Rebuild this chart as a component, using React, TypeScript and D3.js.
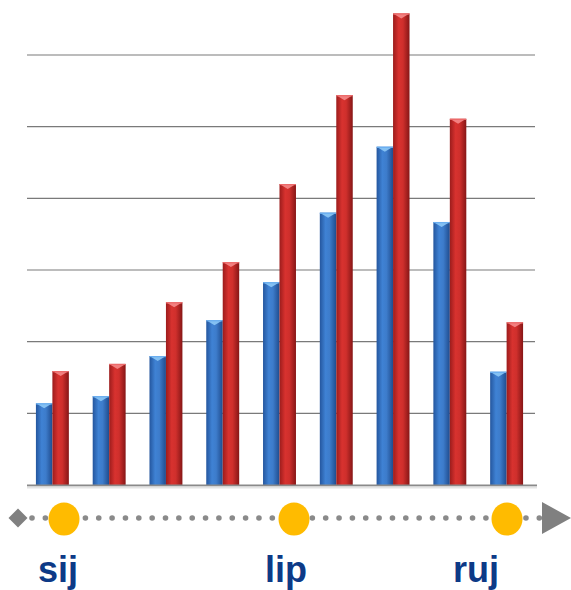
import React from "react";
import * as d3 from "d3";

const categories = ["1", "2", "3", "4", "5", "6", "7", "8", "9"];
const seriesBlue = [11.4, 12.4, 18.0, 23.0, 28.3, 38.0, 47.2, 36.7, 15.8];
const seriesRed = [15.9, 16.9, 25.5, 31.1, 42.0, 54.4, 65.8, 51.1, 22.7];
const gridTicks = [10, 20, 30, 40, 50, 60];
const timelineLabels = ["sij", "lip", "ruj"];
const timelinePositions = [0.09, 0.54, 0.96];

const W = 571;
const H = 590;

export default function App() {
  const x = d3.scaleBand<string>().domain(categories).range([24, 535]).paddingInner(0.42).paddingOuter(0.21);
  const inner = d3.scaleBand<string>().domain(["blue", "red"]).range([0, x.bandwidth()]);
  const y = d3.scaleLinear().domain([0, 60]).range([485, 55]);
  const t = d3.scaleLinear().domain([0, 1]).range([18, 520]);

  const dots: number[] = [];
  for (let px = 32; px < 545; px += 13.35) dots.push(px);

  const labelX = [38, 265, 453];
  const circleX = [64, 294, 507];

  const bar = (v: number, cat: string, s: "blue" | "red", i: number) => {
    const bx = (x(cat) ?? 0) + (inner(s) ?? 0);
    const bw = inner.bandwidth();
    const top = y(v);
    const capH = 5;
    return (
      <g key={s + i}>
        <rect x={bx} y={top} width={bw} height={y(0) - top} fill={`url(#grad-${s})`} />
        <polygon
          points={`${bx},${top} ${bx + bw},${top} ${bx + bw / 2},${top + capH}`}
          fill={s === "blue" ? "#8cc8f6" : "#f58a8a"}
          opacity={0.9}
        />
        <rect x={bx} y={top} width={bw} height={1.2} fill={s === "blue" ? "#6aaef0" : "#ec6a6a"} />
      </g>
    );
  };

  return (
    <svg width={W} height={H} style={{ position: "absolute", left: 0, top: 0, background: "#fff" }}>
      <defs>
        <linearGradient id="grad-blue" x1="0" x2="1" y1="0" y2="0">
          <stop offset="0" stopColor="#24569e" />
          <stop offset="0.35" stopColor="#3f82d4" />
          <stop offset="0.6" stopColor="#3d7ccb" />
          <stop offset="1" stopColor="#1f4c8e" />
        </linearGradient>
        <linearGradient id="grad-red" x1="0" x2="1" y1="0" y2="0">
          <stop offset="0" stopColor="#9c1c1c" />
          <stop offset="0.35" stopColor="#d8322f" />
          <stop offset="0.6" stopColor="#cf2f2c" />
          <stop offset="1" stopColor="#861616" />
        </linearGradient>
      </defs>
      {gridTicks.map((g) => (
        <line key={g} x1={27} x2={535} y1={y(g)} y2={y(g)} stroke="#7a7a7a" strokeWidth={1.2} />
      ))}
      {categories.map((c, i) => (
        <g key={c}>
          {bar(seriesBlue[i], c, "blue", i)}
          {bar(seriesRed[i], c, "red", i)}
        </g>
      ))}
      <line x1={27} x2={537} y1={y(0) + 0.5} y2={y(0) + 0.5} stroke="#8a8a8a" strokeWidth={2} />
      <line x1={27} x2={537} y1={y(0) + 2.5} y2={y(0) + 2.5} stroke="#e4e4e4" strokeWidth={2} />

      {/* timeline */}
      {dots.map((d, i) => (
        <circle key={i} cx={d} cy={518} r={2.8} fill="#8a8a8a" />
      ))}
      <polygon points="8.5,518 18,508.5 27.5,518 18,527.5" fill="#808080" />
      <polygon points="542,502 571,518 542,534" fill="#808080" />
      {timelinePositions.map((p, i) => (
        <ellipse key={i} cx={circleX[i] ?? t(p)} cy={519} rx={15.5} ry={16.5} fill="#ffbb00" />
      ))}
      {timelineLabels.map((l, i) => (
        <text
          key={l}
          x={labelX[i]}
          y={582}
          fontFamily="Liberation Sans, Arial, sans-serif"
          fontWeight="bold"
          fontSize={36}
          fill="#0d3a87"
        >
          {l}
        </text>
      ))}
    </svg>
  );
}
